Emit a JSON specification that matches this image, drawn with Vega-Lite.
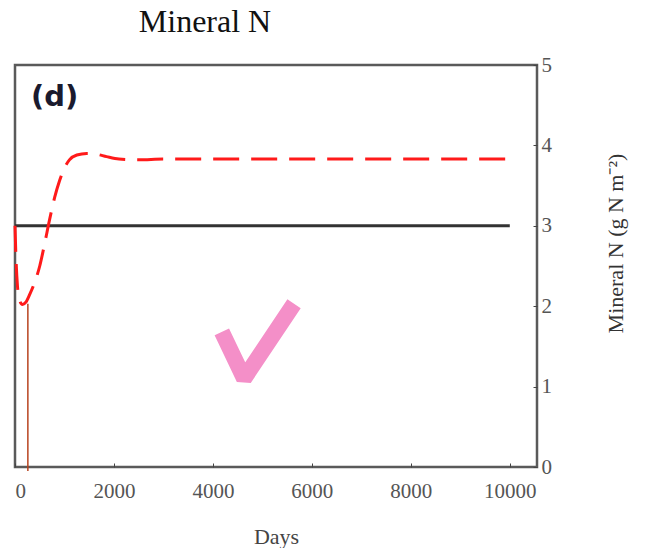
{
  "$schema": "https://vega.github.io/schema/vega-lite/v6.json",
  "width": 522,
  "height": 402,
  "autosize": {"type": "none"},
  "padding": {"left": 15, "top": 65, "right": 109, "bottom": 81},
  "title": {"text": "Mineral N", "font": "Liberation Serif", "fontSize": 32, "fontWeight": "normal", "color": "#111", "anchor": "middle", "dx": -71, "offset": 15},
  "config": {"view": {"stroke": "#5a5a5a", "strokeWidth": 2.5}},
  "datasets": {
    "model": [
      {"day": 0, "value": 3.0}, {"day": 20, "value": 2.6}, {"day": 50, "value": 2.25}, {"day": 90, "value": 2.08},
      {"day": 150, "value": 2.02}, {"day": 220, "value": 2.05}, {"day": 300, "value": 2.15}, {"day": 400, "value": 2.3},
      {"day": 500, "value": 2.5}, {"day": 600, "value": 2.78}, {"day": 700, "value": 3.08}, {"day": 800, "value": 3.35},
      {"day": 900, "value": 3.56}, {"day": 1000, "value": 3.72}, {"day": 1100, "value": 3.82}, {"day": 1250, "value": 3.88},
      {"day": 1450, "value": 3.9}, {"day": 1650, "value": 3.89}, {"day": 1850, "value": 3.86}, {"day": 2100, "value": 3.83},
      {"day": 2500, "value": 3.82}, {"day": 3000, "value": 3.83}, {"day": 10000, "value": 3.83}
    ],
    "baseline": [{"day": 0, "value": 3.0}, {"day": 10000, "value": 3.0}],
    "marker": [{"day": 260, "low": -0.05, "high": 2.03}],
    "check": [{"i": 1, "day": 4180, "value": 1.68}, {"i": 2, "day": 4630, "value": 1.1}, {"i": 3, "day": 5640, "value": 2.03}],
    "label": [{"day": 800, "value": 4.6, "text": "(d)"}]
  },
  "layer": [
    {
      "data": {"name": "baseline"},
      "mark": {"type": "line", "color": "#333333", "strokeWidth": 3},
      "encoding": {
        "x": {"field": "day", "type": "quantitative", "scale": {"domain": [0, 10550], "nice": false},
          "axis": {"values": [0, 2000, 4000, 6000, 8000, 10000], "format": "d", "grid": false, "domain": false, "tickSize": -4, "tickColor": "#444", "labelFont": "Liberation Serif", "labelFontSize": 21, "labelColor": "#555", "labelPadding": 17, "title": "Days", "titleFont": "Liberation Serif", "titleFontSize": 22, "titleFontWeight": "normal", "titleColor": "#444", "titlePadding": 25}},
        "y": {"field": "value", "type": "quantitative", "scale": {"domain": [0, 5], "nice": false},
          "axis": {"orient": "right", "values": [0, 1, 2, 3, 4, 5], "format": "d", "grid": false, "domain": false, "tickSize": -4, "tickColor": "#444", "labelFont": "Liberation Serif", "labelFontSize": 21, "labelColor": "#555", "labelPadding": 8, "title": "Mineral N (g N m⁻²)", "titleAngle": 270, "titleY": 178, "titleFont": "Liberation Serif", "titleFontSize": 22, "titleFontWeight": "normal", "titleColor": "#333", "titlePadding": 76}}
      }
    },
    {
      "data": {"name": "model"},
      "mark": {"type": "line", "color": "#ff1a1a", "strokeWidth": 3, "strokeDash": [26, 12], "interpolate": "monotone"},
      "encoding": {
        "x": {"field": "day", "type": "quantitative"},
        "y": {"field": "value", "type": "quantitative"}
      }
    },
    {
      "data": {"name": "marker"},
      "mark": {"type": "rule", "color": "#b8431f", "strokeWidth": 1.5, "clip": false},
      "encoding": {
        "x": {"field": "day", "type": "quantitative"},
        "y": {"field": "low", "type": "quantitative"},
        "y2": {"field": "high"}
      }
    },
    {
      "data": {"name": "check"},
      "mark": {"type": "line", "color": "#f48fc8", "strokeWidth": 16, "strokeJoin": "bevel", "strokeCap": "butt"},
      "encoding": {
        "x": {"field": "day", "type": "quantitative"},
        "y": {"field": "value", "type": "quantitative"},
        "order": {"field": "i"}
      }
    },
    {
      "data": {"name": "label"},
      "mark": {"type": "text", "font": "DejaVu Sans", "fontSize": 29, "fontWeight": "bold", "color": "#1a1a2e", "align": "center", "baseline": "middle"},
      "encoding": {
        "x": {"field": "day", "type": "quantitative"},
        "y": {"field": "value", "type": "quantitative"},
        "text": {"field": "text"}
      }
    }
  ]
}
